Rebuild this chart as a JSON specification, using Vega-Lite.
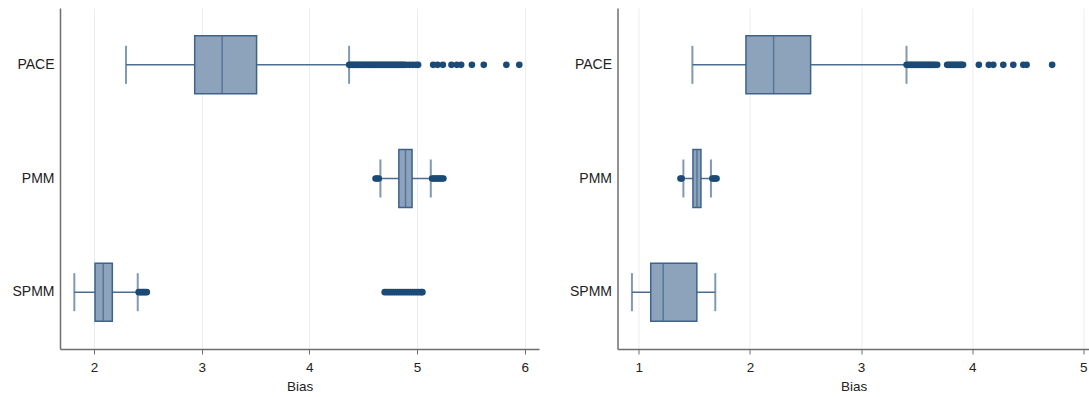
{
  "$schema": "https://vega.github.io/schema/vega-lite/v6.json",
  "padding": {"left": 12, "top": 8, "right": 0, "bottom": 0},
  "background": "white",
  "spacing": 30.5,
  "datasets": {
    "boxes": [
      {"panel": "left", "method": "PACE", "lo": 2.297, "q1": 2.935, "med": 3.19, "q3": 3.51, "hi": 4.369},
      {"panel": "left", "method": "PMM", "lo": 4.66, "q1": 4.831, "med": 4.893, "q3": 4.954, "hi": 5.128},
      {"panel": "left", "method": "SPMM", "lo": 1.817, "q1": 2.009, "med": 2.086, "q3": 2.17, "hi": 2.406},
      {"panel": "right", "method": "PACE", "lo": 1.482, "q1": 1.964, "med": 2.213, "q3": 2.546, "hi": 3.409},
      {"panel": "right", "method": "PMM", "lo": 1.401, "q1": 1.487, "med": 1.523, "q3": 1.559, "hi": 1.649},
      {"panel": "right", "method": "SPMM", "lo": 0.938, "q1": 1.107, "med": 1.219, "q3": 1.522, "hi": 1.688}
    ],
    "outliers": [
      {"panel": "left", "method": "PACE", "bias": 4.37}, {"panel": "left", "method": "PACE", "bias": 4.385}, {"panel": "left", "method": "PACE", "bias": 4.4}, {"panel": "left", "method": "PACE", "bias": 4.415}, {"panel": "left", "method": "PACE", "bias": 4.43}, {"panel": "left", "method": "PACE", "bias": 4.445}, {"panel": "left", "method": "PACE", "bias": 4.46}, {"panel": "left", "method": "PACE", "bias": 4.475}, {"panel": "left", "method": "PACE", "bias": 4.49}, {"panel": "left", "method": "PACE", "bias": 4.505}, {"panel": "left", "method": "PACE", "bias": 4.52}, {"panel": "left", "method": "PACE", "bias": 4.535}, {"panel": "left", "method": "PACE", "bias": 4.55}, {"panel": "left", "method": "PACE", "bias": 4.565}, {"panel": "left", "method": "PACE", "bias": 4.58}, {"panel": "left", "method": "PACE", "bias": 4.595}, {"panel": "left", "method": "PACE", "bias": 4.61}, {"panel": "left", "method": "PACE", "bias": 4.625}, {"panel": "left", "method": "PACE", "bias": 4.64}, {"panel": "left", "method": "PACE", "bias": 4.655}, {"panel": "left", "method": "PACE", "bias": 4.67}, {"panel": "left", "method": "PACE", "bias": 4.685}, {"panel": "left", "method": "PACE", "bias": 4.7}, {"panel": "left", "method": "PACE", "bias": 4.715}, {"panel": "left", "method": "PACE", "bias": 4.73}, {"panel": "left", "method": "PACE", "bias": 4.745}, {"panel": "left", "method": "PACE", "bias": 4.76}, {"panel": "left", "method": "PACE", "bias": 4.775}, {"panel": "left", "method": "PACE", "bias": 4.79}, {"panel": "left", "method": "PACE", "bias": 4.805}, {"panel": "left", "method": "PACE", "bias": 4.82}, {"panel": "left", "method": "PACE", "bias": 4.835}, {"panel": "left", "method": "PACE", "bias": 4.85}, {"panel": "left", "method": "PACE", "bias": 4.865}, {"panel": "left", "method": "PACE", "bias": 4.88}, {"panel": "left", "method": "PACE", "bias": 4.9}, {"panel": "left", "method": "PACE", "bias": 4.93}, {"panel": "left", "method": "PACE", "bias": 4.96}, {"panel": "left", "method": "PACE", "bias": 4.99}, {"panel": "left", "method": "PACE", "bias": 5.01},
      {"panel": "left", "method": "PACE", "bias": 5.15}, {"panel": "left", "method": "PACE", "bias": 5.19}, {"panel": "left", "method": "PACE", "bias": 5.24}, {"panel": "left", "method": "PACE", "bias": 5.32}, {"panel": "left", "method": "PACE", "bias": 5.37}, {"panel": "left", "method": "PACE", "bias": 5.41}, {"panel": "left", "method": "PACE", "bias": 5.51}, {"panel": "left", "method": "PACE", "bias": 5.62}, {"panel": "left", "method": "PACE", "bias": 5.83}, {"panel": "left", "method": "PACE", "bias": 5.95},
      {"panel": "left", "method": "PMM", "bias": 4.615}, {"panel": "left", "method": "PMM", "bias": 4.63}, {"panel": "left", "method": "PMM", "bias": 4.645},
      {"panel": "left", "method": "PMM", "bias": 5.14}, {"panel": "left", "method": "PMM", "bias": 5.155}, {"panel": "left", "method": "PMM", "bias": 5.17}, {"panel": "left", "method": "PMM", "bias": 5.185}, {"panel": "left", "method": "PMM", "bias": 5.2}, {"panel": "left", "method": "PMM", "bias": 5.215}, {"panel": "left", "method": "PMM", "bias": 5.23}, {"panel": "left", "method": "PMM", "bias": 5.245},
      {"panel": "left", "method": "SPMM", "bias": 2.415}, {"panel": "left", "method": "SPMM", "bias": 2.43}, {"panel": "left", "method": "SPMM", "bias": 2.445}, {"panel": "left", "method": "SPMM", "bias": 2.46}, {"panel": "left", "method": "SPMM", "bias": 2.475}, {"panel": "left", "method": "SPMM", "bias": 2.49},
      {"panel": "left", "method": "SPMM", "bias": 4.7}, {"panel": "left", "method": "SPMM", "bias": 4.72}, {"panel": "left", "method": "SPMM", "bias": 4.74}, {"panel": "left", "method": "SPMM", "bias": 4.76}, {"panel": "left", "method": "SPMM", "bias": 4.78}, {"panel": "left", "method": "SPMM", "bias": 4.8}, {"panel": "left", "method": "SPMM", "bias": 4.82}, {"panel": "left", "method": "SPMM", "bias": 4.84}, {"panel": "left", "method": "SPMM", "bias": 4.86}, {"panel": "left", "method": "SPMM", "bias": 4.88}, {"panel": "left", "method": "SPMM", "bias": 4.9}, {"panel": "left", "method": "SPMM", "bias": 4.92}, {"panel": "left", "method": "SPMM", "bias": 4.94}, {"panel": "left", "method": "SPMM", "bias": 4.96}, {"panel": "left", "method": "SPMM", "bias": 4.98}, {"panel": "left", "method": "SPMM", "bias": 5.0}, {"panel": "left", "method": "SPMM", "bias": 5.02}, {"panel": "left", "method": "SPMM", "bias": 5.04}, {"panel": "left", "method": "SPMM", "bias": 5.05},
      {"panel": "right", "method": "PACE", "bias": 3.41}, {"panel": "right", "method": "PACE", "bias": 3.425}, {"panel": "right", "method": "PACE", "bias": 3.44}, {"panel": "right", "method": "PACE", "bias": 3.455}, {"panel": "right", "method": "PACE", "bias": 3.47}, {"panel": "right", "method": "PACE", "bias": 3.485}, {"panel": "right", "method": "PACE", "bias": 3.5}, {"panel": "right", "method": "PACE", "bias": 3.515}, {"panel": "right", "method": "PACE", "bias": 3.53}, {"panel": "right", "method": "PACE", "bias": 3.545}, {"panel": "right", "method": "PACE", "bias": 3.56}, {"panel": "right", "method": "PACE", "bias": 3.575}, {"panel": "right", "method": "PACE", "bias": 3.59}, {"panel": "right", "method": "PACE", "bias": 3.605}, {"panel": "right", "method": "PACE", "bias": 3.62}, {"panel": "right", "method": "PACE", "bias": 3.635}, {"panel": "right", "method": "PACE", "bias": 3.65}, {"panel": "right", "method": "PACE", "bias": 3.665}, {"panel": "right", "method": "PACE", "bias": 3.685},
      {"panel": "right", "method": "PACE", "bias": 3.775}, {"panel": "right", "method": "PACE", "bias": 3.79}, {"panel": "right", "method": "PACE", "bias": 3.805}, {"panel": "right", "method": "PACE", "bias": 3.82}, {"panel": "right", "method": "PACE", "bias": 3.835}, {"panel": "right", "method": "PACE", "bias": 3.85}, {"panel": "right", "method": "PACE", "bias": 3.865}, {"panel": "right", "method": "PACE", "bias": 3.88}, {"panel": "right", "method": "PACE", "bias": 3.895}, {"panel": "right", "method": "PACE", "bias": 3.905}, {"panel": "right", "method": "PACE", "bias": 3.918},
      {"panel": "right", "method": "PACE", "bias": 4.06}, {"panel": "right", "method": "PACE", "bias": 4.15}, {"panel": "right", "method": "PACE", "bias": 4.19}, {"panel": "right", "method": "PACE", "bias": 4.28}, {"panel": "right", "method": "PACE", "bias": 4.37}, {"panel": "right", "method": "PACE", "bias": 4.46}, {"panel": "right", "method": "PACE", "bias": 4.49}, {"panel": "right", "method": "PACE", "bias": 4.72},
      {"panel": "right", "method": "PMM", "bias": 1.375}, {"panel": "right", "method": "PMM", "bias": 1.385},
      {"panel": "right", "method": "PMM", "bias": 1.662}, {"panel": "right", "method": "PMM", "bias": 1.675}, {"panel": "right", "method": "PMM", "bias": 1.688}, {"panel": "right", "method": "PMM", "bias": 1.699}
    ]
  },
  "hconcat": [
    {
      "width": 479,
      "height": 341,
      "layer": [
        {
          "data": {"name": "boxes"},
          "transform": [{"filter": "datum.panel === 'left'"}],
          "mark": {"type": "rule", "color": "#4a6d94", "strokeWidth": 1.5},
          "encoding": {
            "y": {"field": "method", "type": "nominal", "title": null, "sort": ["PACE", "PMM", "SPMM"],
                  "scale": {"domain": ["PACE", "PMM", "SPMM"], "paddingInner": 0, "paddingOuter": 0}},
            "x": {"field": "lo", "type": "quantitative", "title": "Bias",
                  "scale": {"domain": [1.684, 6.133], "nice": false, "zero": false},
                  "axis": {"values": [2, 3, 4, 5, 6], "format": "d", "grid": true}},
            "x2": {"field": "hi"}
          }
        },
        {
          "data": {"name": "boxes"},
          "transform": [{"filter": "datum.panel === 'left'"}],
          "mark": {"type": "bar", "size": 58, "fill": "#8ca3bb", "stroke": "#3f628b", "strokeWidth": 1.5},
          "encoding": {
            "y": {"field": "method", "type": "nominal", "sort": ["PACE", "PMM", "SPMM"]},
            "x": {"field": "q1", "type": "quantitative"},
            "x2": {"field": "q3"}
          }
        },
        {
          "data": {"name": "boxes"},
          "transform": [{"filter": "datum.panel === 'left'"}],
          "mark": {"type": "tick", "orient": "vertical", "size": 57, "thickness": 1.5, "color": "#3f628b"},
          "encoding": {
            "y": {"field": "method", "type": "nominal", "sort": ["PACE", "PMM", "SPMM"]},
            "x": {"field": "med", "type": "quantitative"}
          }
        },
        {
          "data": {"name": "boxes"},
          "transform": [{"filter": "datum.panel === 'left'"}],
          "mark": {"type": "tick", "orient": "vertical", "size": 38, "thickness": 2, "color": "#4a6d94"},
          "encoding": {
            "y": {"field": "method", "type": "nominal", "sort": ["PACE", "PMM", "SPMM"]},
            "x": {"field": "lo", "type": "quantitative"}
          }
        },
        {
          "data": {"name": "boxes"},
          "transform": [{"filter": "datum.panel === 'left'"}],
          "mark": {"type": "tick", "orient": "vertical", "size": 38, "thickness": 2, "color": "#4a6d94"},
          "encoding": {
            "y": {"field": "method", "type": "nominal", "sort": ["PACE", "PMM", "SPMM"]},
            "x": {"field": "hi", "type": "quantitative"}
          }
        },
        {
          "data": {"name": "outliers"},
          "transform": [{"filter": "datum.panel === 'left'"}],
          "mark": {"type": "circle", "size": 44, "color": "#1b4a76", "opacity": 1},
          "encoding": {
            "y": {"field": "method", "type": "nominal", "sort": ["PACE", "PMM", "SPMM"]},
            "x": {"field": "bias", "type": "quantitative"}
          }
        }
      ]
    },
    {
      "width": 472,
      "height": 341,
      "layer": [
        {
          "data": {"name": "boxes"},
          "transform": [{"filter": "datum.panel === 'right'"}],
          "mark": {"type": "rule", "color": "#4a6d94", "strokeWidth": 1.5},
          "encoding": {
            "y": {"field": "method", "type": "nominal", "title": null, "sort": ["PACE", "PMM", "SPMM"],
                  "scale": {"domain": ["PACE", "PMM", "SPMM"], "paddingInner": 0, "paddingOuter": 0}},
            "x": {"field": "lo", "type": "quantitative", "title": "Bias",
                  "scale": {"domain": [0.808, 5.056], "nice": false, "zero": false},
                  "axis": {"values": [1, 2, 3, 4, 5], "format": "d", "grid": true}},
            "x2": {"field": "hi"}
          }
        },
        {
          "data": {"name": "boxes"},
          "transform": [{"filter": "datum.panel === 'right'"}],
          "mark": {"type": "bar", "size": 58, "fill": "#8ca3bb", "stroke": "#3f628b", "strokeWidth": 1.5},
          "encoding": {
            "y": {"field": "method", "type": "nominal", "sort": ["PACE", "PMM", "SPMM"]},
            "x": {"field": "q1", "type": "quantitative"},
            "x2": {"field": "q3"}
          }
        },
        {
          "data": {"name": "boxes"},
          "transform": [{"filter": "datum.panel === 'right'"}],
          "mark": {"type": "tick", "orient": "vertical", "size": 57, "thickness": 1.5, "color": "#3f628b"},
          "encoding": {
            "y": {"field": "method", "type": "nominal", "sort": ["PACE", "PMM", "SPMM"]},
            "x": {"field": "med", "type": "quantitative"}
          }
        },
        {
          "data": {"name": "boxes"},
          "transform": [{"filter": "datum.panel === 'right'"}],
          "mark": {"type": "tick", "orient": "vertical", "size": 38, "thickness": 2, "color": "#4a6d94"},
          "encoding": {
            "y": {"field": "method", "type": "nominal", "sort": ["PACE", "PMM", "SPMM"]},
            "x": {"field": "lo", "type": "quantitative"}
          }
        },
        {
          "data": {"name": "boxes"},
          "transform": [{"filter": "datum.panel === 'right'"}],
          "mark": {"type": "tick", "orient": "vertical", "size": 38, "thickness": 2, "color": "#4a6d94"},
          "encoding": {
            "y": {"field": "method", "type": "nominal", "sort": ["PACE", "PMM", "SPMM"]},
            "x": {"field": "hi", "type": "quantitative"}
          }
        },
        {
          "data": {"name": "outliers"},
          "transform": [{"filter": "datum.panel === 'right'"}],
          "mark": {"type": "circle", "size": 44, "color": "#1b4a76", "opacity": 1},
          "encoding": {
            "y": {"field": "method", "type": "nominal", "sort": ["PACE", "PMM", "SPMM"]},
            "x": {"field": "bias", "type": "quantitative"}
          }
        }
      ]
    }
  ],
  "config": {
    "font": "Liberation Sans",
    "view": {"stroke": null},
    "concat": {"spacing": 30.5},
    "axis": {
      "domainColor": "#6e6e6e",
      "domainWidth": 1.5,
      "tickColor": "#6e6e6e",
      "tickWidth": 1,
      "labelColor": "#222222",
      "titleColor": "#222222",
      "labelFont": "Liberation Sans",
      "titleFont": "Liberation Sans",
      "titleFontWeight": "normal",
      "gridColor": "#e8eff2",
      "gridWidth": 1
    },
    "axisX": {
      "tickSize": 5,
      "labelPadding": 6,
      "labelFontSize": 13.5,
      "titleFontSize": 13.5,
      "titlePadding": 6,
      "labelFlush": false
    },
    "axisY": {
      "ticks": false,
      "grid": false,
      "labelPadding": 6,
      "labelFontSize": 14,
      "minExtent": 45,
      "maxExtent": 45
    }
  }
}
